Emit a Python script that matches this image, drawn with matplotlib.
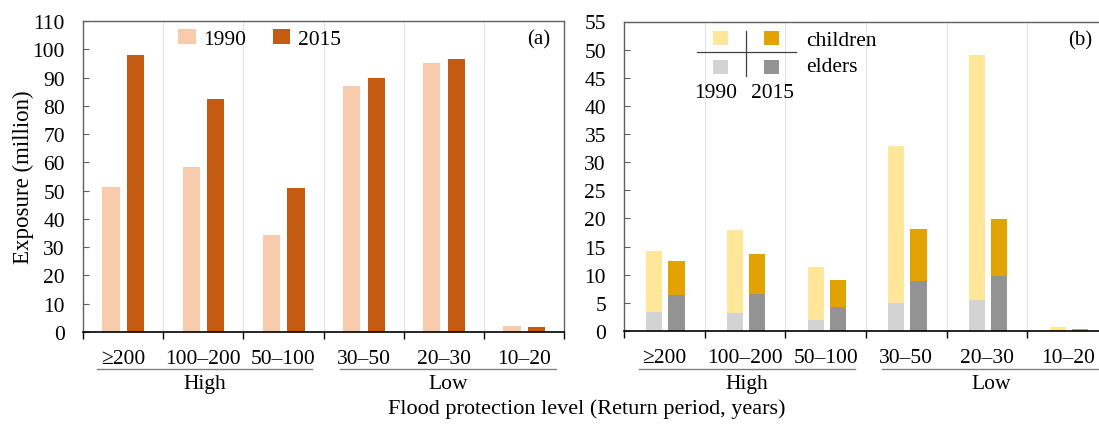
import numpy as np
import matplotlib
matplotlib.use('Agg')
import matplotlib.pyplot as plt
from matplotlib.patches import Rectangle
from matplotlib.lines import Line2D
import matplotlib.transforms as mtransforms

plt.rcParams['font.family'] = ['Liberation Serif', 'DejaVu Serif']
plt.rcParams['font.size'] = 15

W, H = 1099, 431

# --- данные ---
levels = ['≥200', '100–200', '50–100', '30–50', '20–30', '10–20']
groups = ['High', 'Low']

total_1990 = [51.4, 58.4, 34.3, 86.9, 95.2, 2.1]
total_2015 = [97.9, 82.5, 50.8, 90.0, 96.6, 1.9]

elders_1990 = [3.3, 3.2, 1.9, 5.0, 5.45, 0.1]
children_1990 = [10.9, 14.8, 9.4, 27.8, 43.65, 0.65]
elders_2015 = [6.45, 6.6, 4.35, 8.8, 9.75, 0.1]
children_2015 = [6.05, 7.1, 4.65, 9.25, 10.15, 0.3]

# цвета
c_1990 = '#F8CBAD'
c_2015 = '#C55A11'
c_child_1990 = '#FFE699'
c_child_2015 = '#E2A300'
c_eld_1990 = '#D3D3D3'
c_eld_2015 = '#939393'


def fig_xy(x, y):
    # пиксели картинки -> доли фигуры
    return x / W, 1 - y / H


fig = plt.figure(figsize=(W / 100, H / 100), dpi=100)
ax_a = fig.add_axes([83 / W, 1 - 333 / H, (564 - 83) / W, (333 - 22) / H])
ax_b = fig.add_axes([624 / W, 1 - 332 / H, (1108 - 624) / W, (332 - 22.5) / H])

x = np.arange(len(levels))

# --- панель (a) ---
ax_a.bar(x + 0.35, total_1990, width=0.215, color=c_1990, label='1990', zorder=2)
ax_a.bar(x + 0.657, total_2015, width=0.215, color=c_2015, label='2015', zorder=2)
ax_a.set_ylim(0, 110)
ax_a.set_yticks(np.arange(0, 111, 10))
ax_a.text(0.948, 0.942, '(a)', transform=ax_a.transAxes, ha='center', va='center')
ax_a.legend(loc='center', bbox_to_anchor=(0.367, 0.942), ncol=2, frameon=False,
            handlelength=0.8, handleheight=0.7, handletextpad=0.35,
            columnspacing=1.25, borderpad=0, fontsize=15.5)
fig.text(*fig_xy(23, 177), 'Exposure (million)', rotation=90, ha='center', va='center',
         fontsize=16.5)

# --- панель (b) ---
ax_b.bar(x + 0.376, elders_1990, width=0.2, color=c_eld_1990, zorder=2)
ax_b.bar(x + 0.376, children_1990, width=0.2, bottom=elders_1990, color=c_child_1990, zorder=2)
ax_b.bar(x + 0.65, elders_2015, width=0.2, color=c_eld_2015, zorder=2)
ax_b.bar(x + 0.65, children_2015, width=0.2, bottom=elders_2015, color=c_child_2015, zorder=2)
ax_b.set_ylim(0, 55)
ax_b.set_yticks(np.arange(0, 56, 5))
ax_b.text(0.942, 0.942, '(b)', transform=ax_b.transAxes, ha='center', va='center')

# легенда (b) вручную: 2x2 квадратики с крестом
sq_w, sq_h = 15, 14
for cx, cy, col in [(720, 39, c_child_1990), (771, 39, c_child_2015),
                    (720, 68, c_eld_1990), (771, 68, c_eld_2015)]:
    x0, y0 = fig_xy(cx - sq_w / 2, cy + sq_h / 2)
    fig.patches.append(Rectangle((x0, y0), sq_w / W, sq_h / H, transform=fig.transFigure,
                                 facecolor=col, edgecolor='none', zorder=5))
fig.lines.append(Line2D([697 / W, 796 / W], [1 - 53.3 / H] * 2, transform=fig.transFigure,
                        color='#404040', lw=0.9, zorder=5))
fig.lines.append(Line2D([745.7 / W] * 2, [1 - 31.7 / H, 1 - 76.7 / H], transform=fig.transFigure,
                        color='#404040', lw=0.9, zorder=5))
fig.text(*fig_xy(806, 41), 'children', ha='left', va='center', zorder=6, fontsize=15.5)
fig.text(*fig_xy(806, 68), 'elders', ha='left', va='center', zorder=6, fontsize=15.5)
fig.text(*fig_xy(716, 94), '1990', ha='center', va='center', zorder=6, fontsize=15.5)
fig.text(*fig_xy(773, 94), '2015', ha='center', va='center', zorder=6, fontsize=15.5)

# --- общее оформление осей ---
for ax in (ax_a, ax_b):
    ax.set_xlim(0, len(levels))
    ax.set_xticks(np.arange(len(levels) + 1))
    ax.set_xticklabels([])
    ax.set_xticks(x + 0.5, levels, minor=True)
    ax.tick_params(axis='x', which='major', direction='out', length=5, width=1, color='black')
    ax.tick_params(axis='x', which='minor', length=0, pad=12, labelsize=15.5)
    ax.tick_params(axis='y', direction='in', length=4, width=0.8, color='#606060', pad=13,
                   labelsize=15.5)
    for v in range(1, len(levels)):
        ax.axvline(v, color='#E3E3E3', lw=0.8, zorder=1)
    for side in ('left', 'top', 'right'):
        ax.spines[side].set_color('#606060')
        ax.spines[side].set_linewidth(1.0)
    ax.spines['bottom'].set_color('black')
    ax.spines['bottom'].set_linewidth(1.2)

    # подчеркивание групп High / Low
    trans = mtransforms.blended_transform_factory(ax.transData, fig.transFigure)
    y_line = 1 - 370 / H
    y_grp = 1 - 385 / H
    for (g0, g1), name in zip([(0.18, 2.86), (3.2, 5.9)], groups):
        ax.add_line(Line2D([g0, g1], [y_line, y_line], transform=trans, color='#808080',
                           lw=1.0, clip_on=False))
        ax.text((g0 + g1) / 2, y_grp, name, transform=trans, ha='center', va='center',
                fontsize=15.5)

fig.text(*fig_xy(587, 409), 'Flood protection level (Return period, years)',
         ha='center', va='center', fontsize=16)

fig.savefig('out.png', dpi=100)
